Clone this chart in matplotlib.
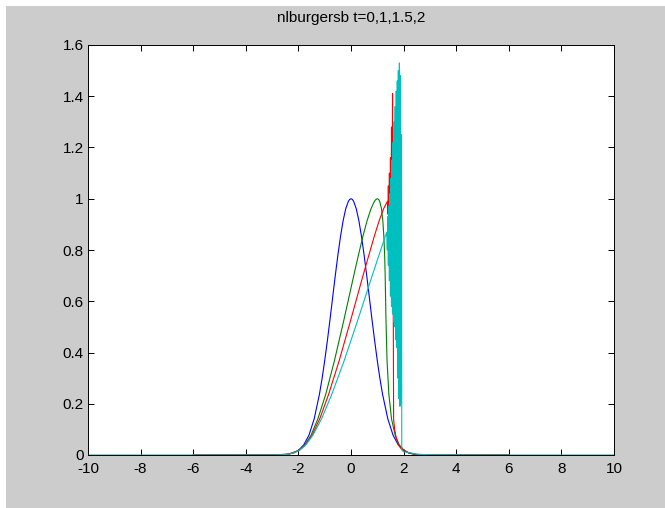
import numpy as np
import matplotlib.pyplot as plt
from matplotlib.patches import Rectangle

plt.rcParams['font.family'] = ['Liberation Sans', 'DejaVu Sans']

# valores (t = 0, 1, 1.5, 2)
x_t0 = [-6, -3, -2.6, -2.4, -2.2, -2.0, -1.8, -1.6, -1.4, -1.2, -1.1, -1.0, -0.9, -0.8, -0.7, -0.6, -0.5,
        -0.4, -0.3, -0.2, -0.1, -0.05, 0.0, 0.05, 0.1, 0.2, 0.3, 0.4, 0.5, 0.6, 0.7, 0.8, 0.9, 1.0, 1.1,
        1.2, 1.4, 1.6, 1.8, 2.0, 2.2, 2.4, 2.6, 3, 6]
u_t0 = [0, 0.0001, 0.001, 0.003, 0.008, 0.018, 0.039, 0.077, 0.141, 0.237, 0.298, 0.368, 0.445, 0.527, 0.613,
        0.698, 0.779, 0.852, 0.914, 0.961, 0.990, 0.9975, 1.0, 0.9975, 0.990, 0.961, 0.914, 0.852, 0.779,
        0.698, 0.613, 0.527, 0.445, 0.368, 0.298, 0.237, 0.141, 0.077, 0.039, 0.018, 0.008, 0.003, 0.001,
        0.0001, 0]

x_t1 = [-6, -3, -2.4, -2.19, -1.98, -1.76, -1.52, -1.26, -0.96, -0.63, -0.27, 0.10, 0.28, 0.45, 0.61, 0.76,
        0.89, 0.95, 1.0, 1.05, 1.09, 1.16, 1.21, 1.25, 1.28, 1.30, 1.33, 1.37, 1.44, 1.54, 1.68, 1.84,
        2.02, 2.21, 2.4, 3, 6]
u_t1 = [0, 0.0001, 0.003, 0.008, 0.018, 0.039, 0.077, 0.141, 0.237, 0.368, 0.527, 0.698, 0.779, 0.852, 0.914,
        0.961, 0.99, 0.9975, 1.0, 0.9975, 0.99, 0.961, 0.914, 0.852, 0.779, 0.698, 0.527, 0.368, 0.237,
        0.141, 0.077, 0.039, 0.018, 0.008, 0.003, 0.0001, 0]

x_t15 = [-6, -3, -2.4, -1.97, -1.74, -1.48, -1.19, -0.85, -0.45, -0.01, 0.45, 0.88, 1.07, 1.24, 1.385,
         1.40, 1.42, 1.44, 1.46, 1.48, 1.50, 1.52, 1.54, 1.56, 1.58, 1.60, 1.62,
         1.66, 1.72, 1.80, 1.90, 2.03, 2.2, 2.5, 3, 6]
u_t15 = [0, 0.0001, 0.003, 0.018, 0.039, 0.077, 0.141, 0.237, 0.368, 0.527, 0.698, 0.852, 0.914, 0.961, 0.99,
         0.94, 1.05, 0.93, 1.10, 0.90, 1.16, 0.88, 1.28, 0.85, 1.41, 0.80, 0.14,
         0.10, 0.065, 0.04, 0.025, 0.018, 0.008, 0.002, 0.0001, 0]

x_t2 = [-10, -6, -3, -2.6, -2.39, -2.18, -1.96, -1.72, -1.45, -1.12, -0.73, -0.26, 0.26, 0.80, 1.06, 1.30,
        1.36, 1.38, 1.40, 1.42, 1.44, 1.46, 1.48, 1.50, 1.52, 1.54, 1.56, 1.58, 1.60, 1.62, 1.64,
        1.66, 1.68, 1.70, 1.72, 1.74, 1.76, 1.78, 1.80, 1.82, 1.84, 1.86, 1.88, 1.90, 1.92, 1.93,
        2.0, 2.2, 2.5, 3, 6, 10]
u_t2 = [0, 0, 0.0002, 0.001, 0.003, 0.008, 0.018, 0.039, 0.077, 0.141, 0.237, 0.368, 0.527, 0.698, 0.779, 0.852,
        0.87, 0.80, 0.93, 0.74, 0.97, 0.68, 1.02, 0.62, 1.08, 0.58, 1.15, 0.55, 1.22, 0.52, 1.30,
        0.50, 1.36, 0.45, 1.42, 0.42, 1.46, 0.30, 1.50, 0.22, 1.53, 0.19, 1.48, 0.20, 1.25, 0.02,
        0.012, 0.01, 0.003, 0.001, 0, 0]

colores = [(0, 0, 1), (0, 0.5, 0), (1, 0, 0), (0, 0.75, 0.75)]

fig = plt.figure(figsize=(6.65, 5.08), dpi=100, facecolor='white')
fig.add_artist(Rectangle((6 / 665, 0), 1, 1 - 6 / 508, transform=fig.transFigure,
                         facecolor='#cccccc', edgecolor='none', zorder=-10))
ax = fig.add_axes([88 / 665, 53 / 508, 526 / 665, 410 / 508])

for xs, us, c in zip([x_t0, x_t1, x_t15, x_t2], [u_t0, u_t1, u_t15, u_t2], colores):
    ax.plot(xs, us, color=c, lw=0.8)

ax.set_xlim(-10, 10)
ax.set_ylim(0, 1.6)
ax.set_xticks(np.arange(-10, 11, 2))
ax.set_yticks(np.arange(0, 1.61, 0.2))
ax.set_xticklabels([str(v) for v in range(-10, 11, 2)])
ax.set_yticklabels(['0', '0.2', '0.4', '0.6', '0.8', '1', '1.2', '1.4', '1.6'])
ax.tick_params(direction='in', top=True, right=True, length=4, width=0.7, labelsize=11)
ax.tick_params(axis='x', pad=5)
ax.tick_params(axis='y', pad=3)
for s in ax.spines.values():
    s.set_linewidth(0.7)

fig.text(351 / 665, 1 - 18 / 508, 'nlburgersb t=0,1,1.5,2', ha='center', va='center', fontsize=11)

fig.savefig('out.png', dpi=100, facecolor=fig.get_facecolor())
